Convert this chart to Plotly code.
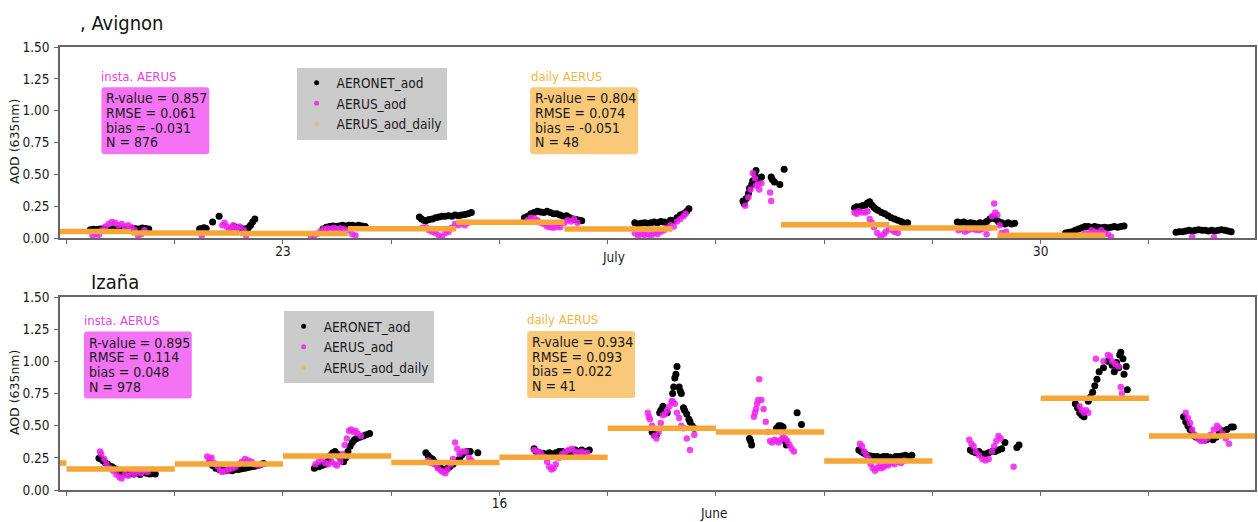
import plotly.graph_objects as go

# ---------------- Avignon (July) ----------------
avi_aeronet_t = [21.22,21.25,21.28,21.31,21.34,21.37,21.40,21.43,21.46,21.49,21.52,21.55,21.58,21.61,21.64,21.67,21.70,21.73,21.76,
                 22.23,22.25,22.27,22.29,22.35,22.41,22.55,22.58,22.61,22.64,22.66,22.68,22.70,22.72,22.74,
                 23.37,23.40,23.43,23.46,23.49,23.52,23.55,23.58,23.61,23.64,23.67,23.70,23.73,23.76,
                 24.26,24.28,24.30,24.32,24.35,24.38,24.41,24.44,24.47,24.50,24.53,24.56,24.59,24.62,24.65,24.68,24.71,24.74,
                 25.23,25.26,25.29,25.32,25.35,25.38,25.41,25.44,25.47,25.50,25.53,25.56,25.59,25.62,25.65,25.68,25.71,25.74,25.76,
                 26.25,26.28,26.31,26.34,26.37,26.40,26.43,26.46,26.49,26.52,26.55,26.58,26.61,26.64,26.67,26.70,26.73,26.75,
                 27.25,27.26,27.28,27.30,27.31,27.33,27.34,27.36,27.37,27.38,27.40,27.42,27.51,27.52,27.54,27.59,27.63,
                 28.28,28.30,28.32,28.34,28.36,28.38,28.40,28.42,28.44,28.46,28.48,28.50,28.53,28.56,28.59,28.62,28.65,28.68,28.71,28.73,28.75,28.77,
                 29.23,29.26,29.29,29.32,29.35,29.38,29.41,29.44,29.47,29.50,29.53,29.56,29.58,29.61,29.64,29.67,29.70,29.73,29.76,
                 30.23,30.26,30.29,30.32,30.35,30.38,30.41,30.44,30.47,30.50,30.53,30.56,30.59,30.62,30.65,30.68,30.71,30.74,30.77,
                 31.25,31.28,31.31,31.34,31.37,31.40,31.43,31.46,31.49,31.52,31.55,31.58,31.61,31.64,31.67,31.70,31.73,31.76]
avi_aeronet_v = [0.065,0.068,0.066,0.070,0.072,0.070,0.068,0.073,0.071,0.074,0.070,0.072,0.069,0.075,0.073,0.070,0.078,0.074,0.070,
                 0.070,0.075,0.080,0.075,0.125,0.170,0.090,0.080,0.075,0.070,0.065,0.080,0.100,0.125,0.150,
                 0.070,0.085,0.090,0.095,0.090,0.095,0.100,0.095,0.100,0.100,0.095,0.100,0.095,0.090,
                 0.165,0.150,0.140,0.135,0.145,0.150,0.160,0.165,0.170,0.170,0.175,0.170,0.180,0.175,0.180,0.185,0.190,0.200,
                 0.160,0.170,0.190,0.200,0.210,0.205,0.200,0.210,0.200,0.190,0.190,0.180,0.170,0.175,0.160,0.150,0.145,0.140,0.135,
                 0.120,0.110,0.115,0.120,0.115,0.120,0.125,0.120,0.130,0.125,0.120,0.140,0.135,0.160,0.180,0.190,0.210,0.230,
                 0.290,0.270,0.310,0.350,0.390,0.420,0.450,0.500,0.530,0.470,0.460,0.480,0.480,0.460,0.440,0.420,0.540,
                 0.235,0.245,0.240,0.250,0.255,0.260,0.275,0.285,0.260,0.240,0.225,0.215,0.200,0.190,0.175,0.160,0.150,0.140,0.130,0.120,0.110,0.120,
                 0.125,0.120,0.125,0.115,0.120,0.115,0.110,0.120,0.115,0.130,0.150,0.165,0.150,0.130,0.120,0.110,0.120,0.110,0.115,
                 0.040,0.045,0.050,0.060,0.070,0.080,0.090,0.090,0.085,0.090,0.085,0.080,0.085,0.080,0.085,0.090,0.085,0.090,0.095,
                 0.045,0.050,0.050,0.055,0.060,0.055,0.060,0.065,0.060,0.060,0.055,0.060,0.055,0.060,0.065,0.060,0.055,0.050]
avi_aerus_t = [21.24,21.27,21.30,21.33,21.36,21.39,21.42,21.45,21.48,21.51,21.54,21.57,21.60,21.63,21.66,21.69,21.72,
               22.25,22.44,22.46,22.48,22.50,22.52,22.54,22.56,22.58,22.60,22.64,22.66,
               23.26,23.29,23.32,23.35,23.38,23.41,23.44,23.47,23.50,23.53,23.56,23.60,23.64,23.67,
               24.29,24.32,24.35,24.38,24.41,24.44,24.47,24.50,24.53,24.56,24.59,24.62,24.65,24.68,24.71,
               25.26,25.29,25.32,25.35,25.38,25.41,25.44,25.47,25.50,25.53,25.56,25.60,25.63,25.66,25.69,25.72,
               26.25,26.28,26.31,26.34,26.37,26.40,26.43,26.46,26.49,26.52,26.55,26.58,26.61,26.64,26.67,26.70,26.72,
               27.27,27.30,27.32,27.34,27.36,27.37,27.39,27.40,27.42,27.50,27.51,
               28.28,28.30,28.32,28.35,28.38,28.40,28.42,28.44,28.46,28.49,28.52,28.55,28.57,28.60,28.63,28.65,28.68,
               29.24,29.27,29.30,29.33,29.37,29.40,29.43,29.46,29.50,29.52,29.55,29.57,29.58,29.60,29.62,29.64,29.66,29.68,
               30.38,30.41,30.44,30.47,30.50,30.53,30.56,30.59,30.62,30.65,
               31.40,31.60]
avi_aerus_v = [0.020,0.030,0.025,0.060,0.090,0.110,0.125,0.120,0.100,0.110,0.090,0.100,0.085,0.060,0.020,0.030,0.060,
               0.020,0.100,0.120,0.090,0.070,0.080,0.100,0.080,0.070,0.090,0.060,0.020,
               0.010,0.020,0.035,0.055,0.070,0.075,0.070,0.080,0.070,0.075,0.070,0.060,0.030,0.020,
               0.080,0.085,0.060,0.050,0.040,0.020,0.010,0.040,0.050,0.080,0.110,0.100,0.120,0.100,0.120,
               0.140,0.160,0.155,0.140,0.120,0.110,0.090,0.085,0.080,0.090,0.085,0.120,0.140,0.130,0.150,0.120,
               0.040,0.020,0.030,0.025,0.030,0.020,0.040,0.030,0.050,0.060,0.080,0.100,0.090,0.130,0.150,0.170,0.190,
               0.254,0.320,0.380,0.510,0.470,0.410,0.420,0.380,0.430,0.357,0.290,
               0.200,0.190,0.210,0.200,0.200,0.210,0.150,0.120,0.085,0.040,0.010,0.030,0.050,0.070,0.060,0.050,0.040,
               0.060,0.070,0.050,0.060,0.070,0.065,0.060,0.070,0.030,0.080,0.170,0.270,0.200,0.180,0.100,0.040,0.020,0.050,
               0.020,0.040,0.030,0.060,0.050,0.040,0.060,0.040,0.030,0.010,
               0.010,0.005]
avi_daily_start = [20.6, 21.6, 22.6, 23.6, 24.6, 25.6, 27.6, 28.6, 29.6]
avi_daily_v = [0.052, 0.040, 0.035, 0.073, 0.124, 0.070, 0.105, 0.078, 0.021]
avi_stats_insta = ["R-value = 0.857", "RMSE = 0.061", "bias = -0.031", "N = 876"]
avi_stats_daily = ["R-value = 0.804", "RMSE = 0.074", "bias = -0.051", "N = 48"]

# ---------------- Izaña (June) ----------------
iza_aeronet_t = [12.30,12.32,12.34,12.36,12.38,12.40,12.42,12.44,12.46,12.48,12.50,12.53,12.56,12.59,12.62,12.65,12.68,12.71,12.74,12.77,12.80,12.82,
                 13.32,13.35,13.38,13.41,13.44,13.47,13.50,13.53,13.56,13.59,13.62,13.65,13.68,13.71,13.74,13.77,13.80,13.82,
                 14.29,14.31,14.33,14.36,14.39,14.42,14.44,14.46,14.48,14.50,14.52,14.54,14.56,14.58,14.60,14.62,14.64,14.66,14.68,14.71,14.74,14.77,14.80,
                 15.32,15.34,15.36,15.38,15.40,15.42,15.44,15.46,15.48,15.50,15.52,15.54,15.57,15.60,15.63,15.65,15.67,15.70,15.73,15.80,
                 16.32,16.34,16.37,16.40,16.43,16.46,16.49,16.52,16.55,16.58,16.61,16.64,16.67,16.70,16.73,16.76,16.79,16.83,
                 17.41,17.43,17.45,17.48,17.49,17.51,17.55,17.60,17.61,17.62,17.63,17.64,17.66,17.67,17.68,17.70,17.71,17.73,17.75,17.76,17.78,17.80,
                 18.31,18.32,18.33,18.56,18.58,18.60,18.62,18.64,18.65,18.75,18.79,
                 19.32,19.34,19.36,19.38,19.40,19.43,19.46,19.49,19.52,19.55,19.58,19.61,19.66,19.69,19.72,19.75,19.78,19.81,
                 20.35,20.37,20.40,20.43,20.46,20.49,20.52,20.55,20.58,20.61,20.64,20.67,20.78,20.80,
                 21.32,21.34,21.36,21.38,21.40,21.44,21.46,21.48,21.50,21.52,21.54,21.58,21.62,21.66,21.68,21.70,21.72,21.73,21.74,21.76,21.77,21.79,21.80,
                 22.32,22.34,22.36,22.38,22.40,22.42,22.44,22.47,22.50,22.53,22.56,22.59,22.62,22.65,22.68,22.72,22.76,22.78]
iza_aeronet_v = [0.247,0.240,0.225,0.210,0.200,0.185,0.180,0.170,0.160,0.150,0.140,0.130,0.125,0.130,0.125,0.130,0.120,0.135,0.130,0.125,0.130,0.125,
                 0.210,0.190,0.170,0.160,0.155,0.150,0.155,0.150,0.160,0.160,0.165,0.170,0.175,0.180,0.185,0.190,0.200,0.205,
                 0.170,0.180,0.180,0.190,0.200,0.230,0.270,0.290,0.300,0.280,0.260,0.240,0.220,0.250,0.300,0.340,0.370,0.390,0.400,0.410,0.420,0.430,0.440,
                 0.290,0.270,0.250,0.240,0.220,0.200,0.180,0.170,0.160,0.160,0.170,0.180,0.200,0.220,0.240,0.270,0.290,0.300,0.300,0.290,
                 0.320,0.300,0.290,0.285,0.280,0.290,0.280,0.290,0.300,0.300,0.290,0.300,0.300,0.310,0.300,0.310,0.300,0.310,
                 0.450,0.430,0.430,0.600,0.620,0.650,0.600,0.750,0.800,0.870,0.900,0.960,0.800,0.770,0.750,0.640,0.620,0.590,0.550,0.530,0.500,0.480,
                 0.400,0.380,0.350,0.480,0.500,0.500,0.490,0.380,0.350,0.600,0.510,
                 0.310,0.300,0.290,0.280,0.270,0.265,0.260,0.260,0.255,0.260,0.260,0.255,0.260,0.260,0.265,0.270,0.260,0.270,
                 0.310,0.300,0.290,0.300,0.280,0.280,0.290,0.300,0.300,0.310,0.320,0.370,0.330,0.350,
                 0.670,0.640,0.600,0.580,0.570,0.690,0.720,0.760,0.810,0.860,0.920,0.950,1.000,0.970,0.920,0.990,0.950,1.050,1.070,1.020,0.900,0.960,0.780,
                 0.570,0.530,0.500,0.470,0.440,0.420,0.410,0.400,0.390,0.390,0.400,0.390,0.410,0.440,0.460,0.470,0.490,0.490]
iza_aerus_t = [12.31,12.32,12.35,12.37,12.40,12.43,12.46,12.49,12.51,12.54,12.57,12.60,12.63,12.66,12.69,12.72,12.75,
               13.30,13.32,13.34,13.36,13.38,13.40,13.42,13.44,13.47,13.50,13.53,13.56,13.59,13.62,13.65,13.68,13.71,13.74,13.77,13.80,
               14.30,14.33,14.36,14.39,14.42,14.45,14.48,14.50,14.53,14.55,14.57,14.59,14.61,14.63,14.65,14.67,14.69,14.72,
               15.34,15.37,15.40,15.43,15.46,15.48,15.50,15.52,15.55,15.57,15.59,15.61,15.63,15.66,15.69,15.72,15.74,
               16.32,16.35,16.38,16.41,16.44,16.46,16.48,16.50,16.52,16.55,16.58,16.61,16.64,16.67,16.70,16.73,16.76,16.79,16.81,
               17.37,17.38,17.39,17.41,17.43,17.45,17.47,17.49,17.51,17.53,17.55,17.57,17.59,17.60,17.62,17.64,17.66,17.68,17.70,17.73,17.76,17.80,
               18.35,18.36,18.37,18.38,18.39,18.40,18.42,18.44,18.46,18.48,18.50,18.52,18.54,18.56,18.58,18.60,18.62,18.64,18.66,18.68,18.70,18.72,
               19.33,19.35,19.37,19.39,19.41,19.43,19.45,19.47,19.49,19.51,19.53,19.55,19.57,19.59,19.62,19.65,19.68,19.71,19.74,
               20.34,20.36,20.38,20.40,20.43,20.46,20.49,20.52,20.55,20.57,20.59,20.61,20.63,20.75,
               21.36,21.38,21.40,21.42,21.44,21.51,21.58,21.62,21.64,21.66,21.69,21.72,21.74,21.75,
               22.34,22.36,22.38,22.40,22.42,22.45,22.48,22.51,22.54,22.57,22.60,22.63,22.65,22.68,22.71,22.74]
iza_aerus_v = [0.300,0.280,0.240,0.200,0.170,0.150,0.120,0.100,0.090,0.120,0.110,0.140,0.120,0.150,0.130,0.150,0.140,
               0.260,0.240,0.250,0.210,0.200,0.180,0.150,0.140,0.150,0.160,0.170,0.180,0.200,0.220,0.240,0.230,0.220,0.200,0.190,0.200,
               0.200,0.220,0.240,0.210,0.200,0.220,0.200,0.190,0.220,0.280,0.350,0.400,0.460,0.470,0.450,0.460,0.440,0.420,
               0.230,0.210,0.200,0.170,0.150,0.140,0.130,0.160,0.200,0.240,0.370,0.320,0.280,0.300,0.300,0.250,0.230,
               0.310,0.300,0.290,0.260,0.220,0.180,0.160,0.170,0.200,0.250,0.280,0.300,0.310,0.320,0.300,0.290,0.300,0.280,0.290,
               0.600,0.570,0.550,0.500,0.420,0.400,0.450,0.520,0.580,0.590,0.620,0.650,0.690,0.690,0.670,0.600,0.560,0.500,0.480,0.400,0.310,0.430,
               0.570,0.600,0.630,0.670,0.700,0.860,0.700,0.630,0.530,0.450,0.380,0.370,0.390,0.380,0.370,0.390,0.410,0.400,0.380,0.350,0.320,0.300,
               0.360,0.340,0.300,0.270,0.240,0.200,0.170,0.150,0.170,0.190,0.170,0.180,0.200,0.190,0.210,0.200,0.220,0.210,0.230,
               0.390,0.360,0.340,0.300,0.270,0.240,0.230,0.240,0.300,0.340,0.380,0.420,0.400,0.180,
               0.650,0.620,0.600,0.620,0.600,1.020,1.000,1.050,1.040,1.000,0.980,0.960,0.800,0.750,
               0.600,0.560,0.520,0.470,0.430,0.400,0.380,0.380,0.400,0.430,0.470,0.500,0.480,0.440,0.400,0.360]
iza_daily_start = [11, 12, 13, 14, 15, 16, 17, 18, 19, 21, 22]
iza_daily_v = [0.210, 0.163, 0.203, 0.265, 0.213, 0.255, 0.480, 0.450, 0.226, 0.714, 0.420]
iza_stats_insta = ["R-value = 0.895", "RMSE = 0.114", "bias = 0.048", "N = 978"]
iza_stats_daily = ["R-value = 0.934", "RMSE = 0.093", "bias = 0.022", "N = 41"]

# axis labelling
avi_days = list(range(21, 33))
avi_tick_labels = {23: "23", 30: "30"}
avi_month = ("July", 26.05)
iza_days = list(range(12, 24))
iza_tick_labels = {16: "16"}
iza_month = ("June", 17.98)
y_ticks = [0.0, 0.25, 0.5, 0.75, 1.0, 1.25, 1.5]
series_names = ["AERONET_aod", "AERUS_aod", "AERUS_aod_daily"]

FONT = "DejaVu Sans Condensed, DejaVu Sans, sans-serif"
FONT_N = "DejaVu Sans, sans-serif"
BLACK = "#000000"
MAGENTA = "rgba(238,34,238,0.85)"
ORANGE = "#f5a637"
BOX_MAGENTA = "#f472f4"
BOX_ORANGE = "#f9c879"
LABEL_MAGENTA = "#e840e8"
LABEL_ORANGE = "#f2b445"
TXT = "#1a1a1a"

W, H = 1258, 522
L, R, T, B = 60, 1, 47, 32
ph = H - T - B
pw = W - L - R
def py(p):  # pixel y -> paper y
    return (H - B - p) / ph
def px(p):
    return (p - L) / pw

fig = go.Figure()

def segs(starts, vals):
    xs, ys = [], []
    for s, v in zip(starts, vals):
        xs += [s, s + 1, None]
        ys += [v, v, None]
    return xs, ys

panels = [
    ("x", "y", "legend", avi_aeronet_t, avi_aeronet_v, avi_aerus_t, avi_aerus_v, avi_daily_start, avi_daily_v),
    ("x2", "y2", "legend2", iza_aeronet_t, iza_aeronet_v, iza_aerus_t, iza_aerus_v, iza_daily_start, iza_daily_v),
]
legend_colors = [BLACK, MAGENTA, "rgba(245,166,55,0.45)"]
for xa, ya, lg, bt, bv, mt, mv, ds, dv in panels:
    fig.add_trace(go.Scatter(x=bt, y=bv, mode="markers", name=series_names[0], xaxis=xa, yaxis=ya,
                             showlegend=False, marker=dict(color=BLACK, size=7)))
    fig.add_trace(go.Scatter(x=mt, y=mv, mode="markers", name=series_names[1], xaxis=xa, yaxis=ya,
                             showlegend=False, marker=dict(color=MAGENTA, size=6.5)))
    sx, sy = segs(ds, dv)
    fig.add_trace(go.Scatter(x=sx, y=sy, mode="lines", name=series_names[2], xaxis=xa, yaxis=ya,
                             showlegend=False, line=dict(color=ORANGE, width=5.5)))
    for nm, col in zip(series_names, legend_colors):
        fig.add_trace(go.Scatter(x=[None], y=[None], mode="markers", name=nm, xaxis=xa, yaxis=ya,
                                 legend=lg, marker=dict(color=col, size=5)))

def xaxis_cfg(days, labels, rng):
    return dict(range=rng, tickvals=days, ticktext=[labels.get(d, "") for d in days],
                ticks="outside", ticklen=4, tickwidth=1, tickcolor="#666", ticklabelstandoff=-4,
                showgrid=False, zeroline=False, showline=True, linecolor="#666", linewidth=1.5,
                mirror=True, tickfont=dict(family=FONT, size=13.5, color=TXT))

def yaxis_cfg(domain):
    return dict(domain=domain, range=[0, 1.5], tickvals=y_ticks, tickformat=".2f",
                ticks="outside", ticklen=4, tickwidth=1, tickcolor="#666", ticklabelstandoff=2,
                showgrid=False, zeroline=False, showline=True, linecolor="#666", linewidth=1.5,
                mirror=True, tickfont=dict(family=FONT, size=13.5, color=TXT))

leg_common = dict(xanchor="left", yanchor="top", bgcolor="#cbcbcb", borderwidth=0,
                  font=dict(family=FONT, size=13.5, color=TXT), itemwidth=30, tracegroupgap=0)
fig.update_layout(
    width=W, height=H, margin=dict(l=L, r=R, t=T, b=B),
    paper_bgcolor="white", plot_bgcolor="white",
    font=dict(family=FONT, size=13, color=TXT),
    xaxis=dict(anchor="y", **xaxis_cfg(avi_days, avi_tick_labels, [20.94, 31.98])),
    yaxis=dict(anchor="x", **yaxis_cfg([py(238), 1])),
    xaxis2=dict(anchor="y2", **xaxis_cfg(iza_days, iza_tick_labels, [11.94, 22.98])),
    yaxis2=dict(anchor="x2", **yaxis_cfg([0, py(297)])),
    legend=dict(x=px(297), y=py(67.5), **leg_common),
    legend2=dict(x=px(284), y=py(311), **leg_common),
    showlegend=True,
)

ann = []
shapes = []
def text_ann(x, y, text, color, size, family=FONT, **kw):
    ann.append(dict(xref="paper", yref="paper", x=x, y=y, text=text, showarrow=False,
                    font=dict(family=family, size=size, color=color), **kw))

def rounded_box(x0, y0, x1, y1, color, r=3):
    # pixel coords -> paper path with rounded corners
    X = lambda p: px(p)
    Y = lambda p: py(p)
    path = (f"M {X(x0+r)},{Y(y0)} L {X(x1-r)},{Y(y0)} Q {X(x1)},{Y(y0)} {X(x1)},{Y(y0+r)} "
            f"L {X(x1)},{Y(y1-r)} Q {X(x1)},{Y(y1)} {X(x1-r)},{Y(y1)} "
            f"L {X(x0+r)},{Y(y1)} Q {X(x0)},{Y(y1)} {X(x0)},{Y(y1-r)} "
            f"L {X(x0)},{Y(y0+r)} Q {X(x0)},{Y(y0)} {X(x0+r)},{Y(y0)} Z")
    shapes.append(dict(type="path", xref="paper", yref="paper", path=path,
                       fillcolor=color, line=dict(width=0), layer="above"))

# titles
text_ann(px(78), py(23), ", Avignon", "#111", 20, xanchor="left", yanchor="middle")
text_ann(px(89), py(282), "Izaña", "#111", 20, xanchor="left", yanchor="middle")
# y titles
for yc in (py(142), py(393)):
    text_ann(px(14), yc, "AOD (635nm)", TXT, 12.5, family=FONT_N, xanchor="center", yanchor="middle", textangle=-90)

# stats labels and boxes
for (lx, ly, bx, by, label, color, box, lines) in [
    (99, 76.5, 101.5, 87.3, "insta. AERUS", LABEL_MAGENTA, BOX_MAGENTA, avi_stats_insta),
    (530, 76.5, 531, 87.3, "daily AERUS", LABEL_ORANGE, BOX_ORANGE, avi_stats_daily),
    (82, 320, 84, 331.5, "insta. AERUS", LABEL_MAGENTA, BOX_MAGENTA, iza_stats_insta),
    (526, 319.5, 528, 331, "daily AERUS", LABEL_ORANGE, BOX_ORANGE, iza_stats_daily),
]:
    text_ann(px(lx), py(ly), label, color, 13, xanchor="left", yanchor="middle")
    rounded_box(bx, by, bx + 108, by + 67, box)
    for i, line in enumerate(lines):
        text_ann(px(bx + 3), py(by + 11 + 14.7 * i), line, TXT, 14, xanchor="left", yanchor="middle")

# month labels under the day ticks
ann.append(dict(xref="x", yref="paper", x=avi_month[1], y=py(257), text=avi_month[0], showarrow=False,
                xanchor="center", yanchor="middle", font=dict(family=FONT, size=13.5, color=TXT)))
ann.append(dict(xref="x2", yref="paper", x=iza_month[1], y=py(513), text=iza_month[0], showarrow=False,
                xanchor="center", yanchor="middle", font=dict(family=FONT, size=13.5, color=TXT)))
fig.update_layout(annotations=ann, shapes=shapes)

fig.write_html("out.html", config={"displayModeBar": False},
               post_script="document.body.style.margin='0';document.body.style.overflow='hidden';")
